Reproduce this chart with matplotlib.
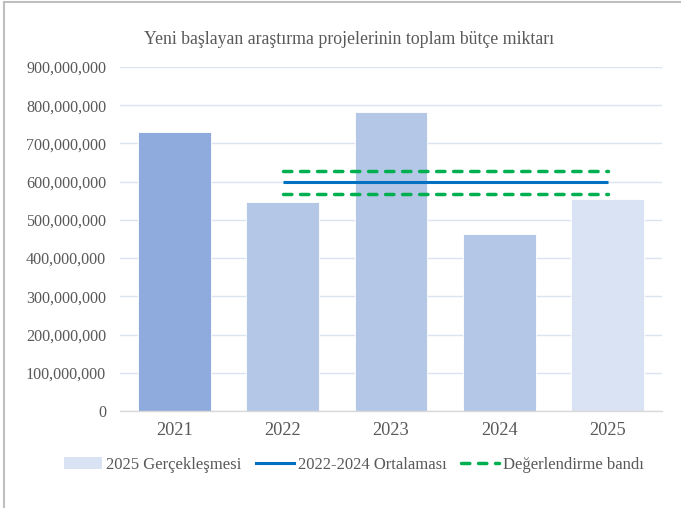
import matplotlib
matplotlib.use('Agg')
from matplotlib import pyplot as plt
from matplotlib.patches import Rectangle, Patch
from matplotlib.lines import Line2D
from matplotlib.ticker import FuncFormatter

years = ['2021', '2022', '2023', '2024', '2025']
budget = [730_000_000, 548_000_000, 783_000_000, 463_000_000, 554_000_000]
bar_colors = ['#8FAADC', '#B4C7E7', '#B4C7E7', '#B4C7E7', '#DAE3F3']

avg_value = 598_000_000
band_upper = 628_000_000
band_lower = 568_000_000
line_span = ['2022', '2025']

title = 'Yeni başlayan araştırma projelerinin toplam bütçe miktarı'
legend_labels = ['2025 Gerçekleşmesi', '2022-2024 Ortalaması', 'Değerlendirme bandı']

plt.rcParams['font.family'] = ['Liberation Serif', 'DejaVu Serif']
text_color = '#595959'

fig = plt.figure(figsize=(6.81, 5.08), dpi=100)
ax = fig.add_axes([120 / 681, 1 - 411 / 508, 542 / 681, 344 / 508])

x = list(range(len(years)))
ax.bar(x, budget, width=0.67, color=bar_colors, edgecolor='white', linewidth=0.6, zorder=2)

xs = [years.index(line_span[0]), years.index(line_span[1])]
ax.plot(xs, [avg_value, avg_value], color='#0070C0', lw=2.2, solid_capstyle='butt', zorder=3)
for v in (band_upper, band_lower):
    ax.plot(xs, [v, v], color='#00B050', lw=2.5, dashes=(2.4, 2.5),
            dash_capstyle='round', zorder=3)

ax.set_xlim(-0.5, len(years) - 0.5)
ax.set_ylim(0, 900_000_000)
ax.set_yticks(range(0, 900_000_001, 100_000_000))
ax.yaxis.set_major_formatter(FuncFormatter(lambda v, p: f'{int(v):,}'))
ax.set_xticks(x)
ax.set_xticklabels(years)
ax.grid(axis='y', color='#DCE4F2', lw=1.0, zorder=0)
ax.set_axisbelow(True)
for s in ['top', 'right', 'left']:
    ax.spines[s].set_visible(False)
ax.spines['bottom'].set_color('#D9D9D9')
ax.spines['bottom'].set_linewidth(1.0)
ax.tick_params(axis='y', length=0, pad=10, labelsize=11.6, labelcolor=text_color)
ax.tick_params(axis='x', length=0, pad=8, labelsize=13.2, labelcolor=text_color)

fig.text(349 / 681, 1 - 40 / 508, title, ha='center', va='center', fontsize=12.8, color=text_color)

handles = [Patch(facecolor='#DAE3F3', edgecolor='none'),
           Line2D([0], [0], color='#0070C0', lw=2.2),
           Line2D([0], [0], color='#00B050', lw=2.5, dashes=(2.4, 2.5), dash_capstyle='round')]
fig.legend(handles, legend_labels, loc='center', bbox_to_anchor=(354 / 681, 1 - 465 / 508),
           ncol=3, frameon=False, fontsize=12, handlelength=2.3, handletextpad=0.25,
           columnspacing=0.85, labelcolor=text_color)

fig.patches.append(Rectangle((4 / 681, -0.05), 1.1, 1 - 1.5 / 508 + 0.05, transform=fig.transFigure,
                             fill=False, edgecolor='#BFBFBF', lw=1.5))

plt.savefig('out.png', dpi=100)
